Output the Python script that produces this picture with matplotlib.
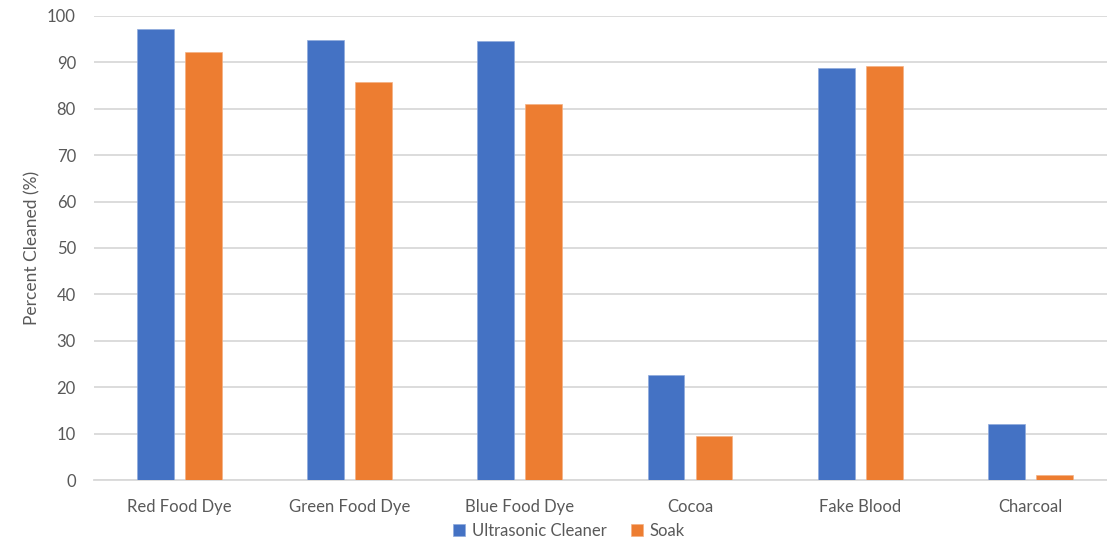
import matplotlib.pyplot as plt
import numpy as np

plt.rcParams['font.family'] = ['Lato', 'DejaVu Sans']

categories = ["Red Food Dye", "Green Food Dye", "Blue Food Dye", "Cocoa",
              "Fake Blood", "Charcoal"]
ultrasonic = [97.2, 94.8, 94.6, 22.6, 88.7, 12.1]
soak = [92.2, 85.8, 81.0, 9.4, 89.2, 1.1]
series_names = ["Ultrasonic Cleaner", "Soak"]
colors = ["#4472C4", "#ED7D31"]

fig = plt.figure(figsize=(11.07, 5.38), dpi=100)
# plot area runs slightly past the right edge, as in the source image
ax = fig.add_axes([0.0849, 0.1078, 0.923, 0.8625])

x = np.arange(len(categories))
w = 0.217
gap = 0.065
ax.bar(x - (w + gap) / 2, ultrasonic, w, color=colors[0], label=series_names[0],
       edgecolor="#8FAADC", linewidth=0.5, zorder=3)
ax.bar(x + (w + gap) / 2, soak, w, color=colors[1], label=series_names[1],
       edgecolor="#F4B183", linewidth=0.5, zorder=3)

ax.set_xlim(-0.5, len(categories) - 0.5)
ax.set_ylim(0, 100)
ax.set_yticks(np.arange(0, 101, 10))
ax.yaxis.grid(True, color="#D9D9D9", linewidth=1.3, zorder=0)
for s in ["top", "right", "left"]:
    ax.spines[s].set_visible(False)
ax.spines["bottom"].set_color("#D9D9D9")
ax.spines["bottom"].set_linewidth(1.3)
ax.tick_params(axis="both", length=0, colors="#595959", labelsize=12)
ax.tick_params(axis="x", pad=14)
ax.tick_params(axis="y", pad=13)
ax.set_xticks(x)
ax.set_xticklabels(categories)
ax.set_ylabel("Percent Cleaned (%)", color="#595959", fontsize=12.5, labelpad=5)

ax.legend(loc="center", bbox_to_anchor=(0.465, -0.11), ncol=2, frameon=False,
          fontsize=12, labelcolor="#595959", handlelength=0.7, handleheight=0.7,
          handletextpad=0.4, columnspacing=1.5)

fig.savefig("out.png", dpi=100)
